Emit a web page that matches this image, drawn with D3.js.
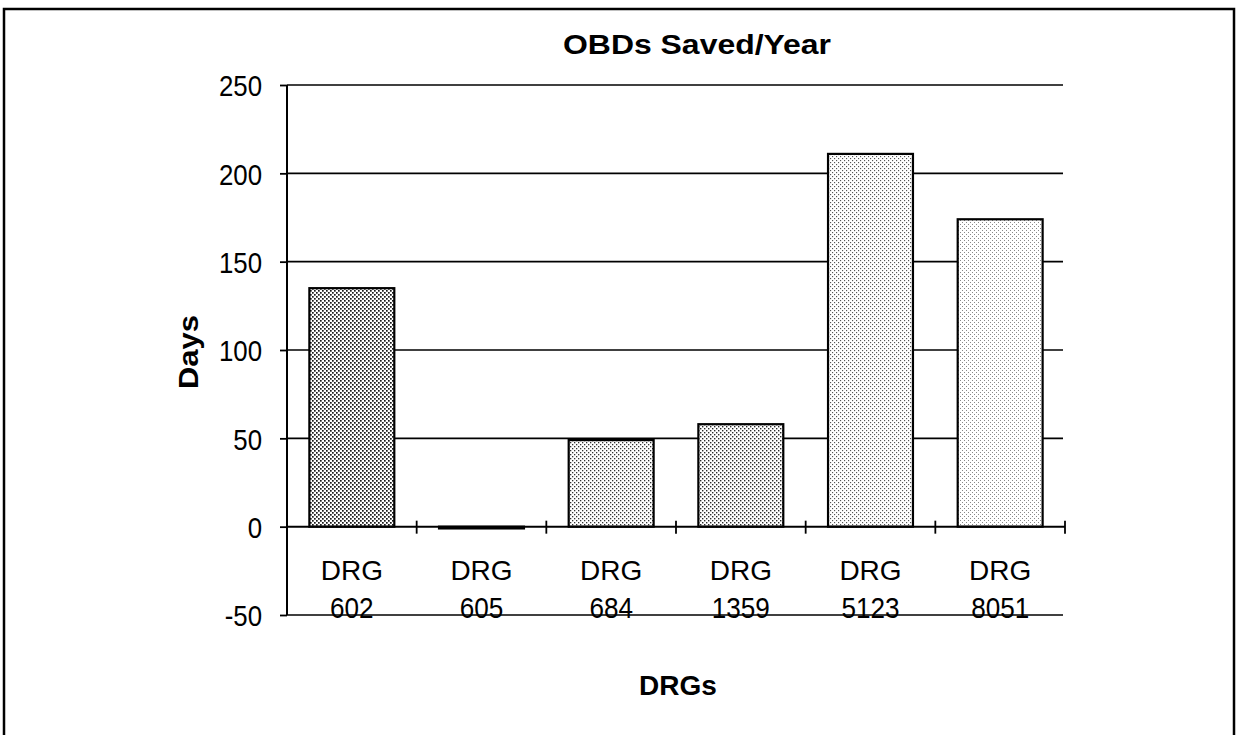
<!DOCTYPE html>
<html>
<head>
<meta charset="utf-8">
<script src="https://cdn.jsdelivr.net/npm/d3@7"></script>
<style>
  html, body { margin: 0; padding: 0; background: #fff; }
  svg { display: block; }
</style>
</head>
<body>
<script>
// ---- data ----
const categoryCodes = ["602", "605", "684", "1359", "5123", "8051"];
const categoryPrefix = "DRG";
const daysSaved = [135, -1, 49, 58, 211, 174];
const yTickValues = [-50, 0, 50, 100, 150, 200, 250];
const chartTitle = "OBDs Saved/Year";
const yAxisTitle = "Days";
const xAxisTitle = "DRGs";

// ---- styles ----
const barPatterns = [
  { id: "p0", dot: 1.7, color: "#1a1a1a" },
  { id: "p1", dot: 1.7, color: "#1a1a1a" },
  { id: "p2", dot: 1.3, color: "#333" },
  { id: "p3", dot: 1.4, color: "#2a2a2a" },
  { id: "p4", dot: 1.15, color: "#555" },
  { id: "p5", dot: 1.0, color: "#888" }
];

const W = 1240, H = 735;
const svg = d3.select("body").append("svg").attr("width", W).attr("height", H);

const defs = svg.append("defs");
barPatterns.forEach(p => {
  const pat = defs.append("pattern").attr("id", p.id)
    .attr("patternUnits", "userSpaceOnUse").attr("width", 4).attr("height", 4);
  pat.append("rect").attr("width", 4).attr("height", 4).attr("fill", "#fff");
  pat.append("rect").attr("x", 0).attr("y", 0).attr("width", p.dot).attr("height", p.dot).attr("fill", p.color);
  pat.append("rect").attr("x", 2).attr("y", 2).attr("width", p.dot).attr("height", p.dot).attr("fill", p.color);
});

// outer frame
svg.append("rect").attr("x", 4).attr("y", 9).attr("width", 1230).attr("height", 740)
  .attr("fill", "none").attr("stroke", "#000").attr("stroke-width", 2.5);

const plotLeft = 287, plotRight = 1065, plotTop = 85, plotBottom = 615;

const x = d3.scaleBand().domain(categoryCodes).range([plotLeft, plotRight]).paddingInner(0.345).paddingOuter(0.1725);
const y = d3.scaleLinear().domain([-50, 250]).range([plotBottom, plotTop]);

const regFont = "'Liberation Sans', Arial, sans-serif";
// condense a text element horizontally (narrow bitmap-like digits)
function condense(sel, k) {
  sel.each(function () {
    const len = this.getComputedTextLength();
    d3.select(this).attr("textLength", len * k).attr("lengthAdjust", "spacingAndGlyphs");
  });
}

// gridlines
svg.append("g").selectAll("line").data(yTickValues.filter(v => v !== 0)).join("line")
  .attr("x1", plotLeft).attr("x2", plotRight - 2)
  .attr("y1", d => y(d)).attr("y2", d => y(d))
  .attr("stroke", "#000").attr("stroke-width", 1.6);

// y axis
const yAxis = d3.axisLeft(y).tickValues(yTickValues).tickSize(7).tickPadding(18).tickFormat(d3.format("d"));
const gy = svg.append("g").attr("transform", `translate(${plotLeft},0)`).call(yAxis);
gy.select(".domain").attr("stroke", "#000").attr("stroke-width", 2).attr("d", `M0,${plotTop}V${plotBottom}`);
gy.selectAll(".tick line").attr("stroke", "#000").attr("stroke-width", 1.8);
gy.selectAll(".tick text").attr("font-family", regFont).attr("font-size", 30).attr("fill", "#000")
  .attr("dy", "0.36em").text(d => d < 0 ? "-" + Math.abs(d) : d)
  .call(condense, 0.86);

// bars
svg.append("g").selectAll("rect").data(daysSaved).join("rect")
  .attr("x", (d, i) => x(categoryCodes[i]))
  .attr("width", x.bandwidth())
  .attr("y", d => y(Math.max(0, d)))
  .attr("height", d => Math.max(1.5, Math.abs(y(d) - y(0))))
  .attr("fill", (d, i) => `url(#${barPatterns[i].id})`)
  .attr("stroke", "#000").attr("stroke-width", 2.2);

// x axis line at zero with crossing ticks at band boundaries
const gx = svg.append("g");
gx.append("line").attr("x1", plotLeft).attr("x2", plotRight).attr("y1", y(0)).attr("y2", y(0))
  .attr("stroke", "#000").attr("stroke-width", 2);
const boundaries = categoryCodes.map(c => x(c) + x.bandwidth() + x.step() * x.paddingInner() / 2);
gx.selectAll("line.tk").data(boundaries).join("line").attr("class", "tk")
  .attr("x1", d => d).attr("x2", d => d)
  .attr("y1", y(0) - 6).attr("y2", y(0) + 7)
  .attr("stroke", "#000").attr("stroke-width", 1.8);

// category labels
const labs = svg.append("g").selectAll("g").data(categoryCodes).join("g")
  .attr("transform", d => `translate(${x(d) + x.bandwidth() / 2},0)`);
labs.append("text").attr("y", 580).attr("text-anchor", "middle")
  .attr("font-family", regFont).attr("font-size", 28).attr("fill", "#000").text(categoryPrefix);
labs.append("text").attr("y", 618).attr("text-anchor", "middle")
  .attr("font-family", regFont).attr("font-size", 30).attr("fill", "#000").text(d => d)
  .call(condense, 0.87);

// titles
svg.append("text").attr("x", 697).attr("y", 54).attr("text-anchor", "middle")
  .attr("font-family", regFont).attr("font-weight", "bold").attr("font-size", 27)
  .attr("textLength", 268).attr("lengthAdjust", "spacingAndGlyphs").text(chartTitle);

svg.append("text").attr("transform", "translate(198,352) rotate(-90)").attr("text-anchor", "middle")
  .attr("font-family", regFont).attr("font-weight", "bold").attr("font-size", 28)
  .attr("textLength", 74).attr("lengthAdjust", "spacingAndGlyphs").text(yAxisTitle);

svg.append("text").attr("x", 678).attr("y", 695).attr("text-anchor", "middle")
  .attr("font-family", regFont).attr("font-weight", "bold").attr("font-size", 28)
  .text(xAxisTitle);
</script>
</body>
</html>
